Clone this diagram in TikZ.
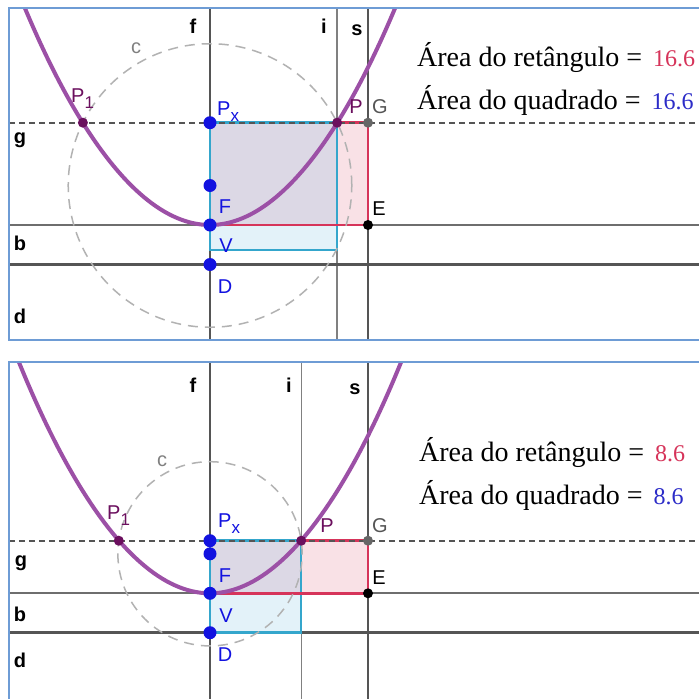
\documentclass[tikz,border=0pt]{standalone}
\usepackage{fontspec}
\setmainfont{Liberation Serif}
\setsansfont{Liberation Sans}
\usepackage{xcolor}
\definecolor{frame}{HTML}{6E9CD5}
\definecolor{axis}{HTML}{555555}
\definecolor{parab}{HTML}{9C50A6}
\definecolor{ptblue}{HTML}{1212E0}
\definecolor{ptpurp}{HTML}{6B0F5E}
\definecolor{sqline}{HTML}{34A6CC}
\definecolor{sqfill}{HTML}{E3F2F9}
\definecolor{rcline}{HTML}{D6345A}
\definecolor{rcfill}{HTML}{F9E1E6}
\definecolor{mixfill}{HTML}{DCD8E5}
\definecolor{numred}{HTML}{D6345A}
\definecolor{numblue}{HTML}{2C2CC8}
\usetikzlibrary{calc}

\begin{document}
\begin{tikzpicture}[x=1pt,y=-1pt,
  frm/.style={frame,line width=2pt},
  heavy/.style={axis,line width=2.8pt},
  light/.style={axis!75,line width=1.3pt},
  guide/.style={axis,line width=1.8pt,dash pattern=on 6pt off 4pt},
  circc/.style={gray!60,line width=1.5pt,dash pattern=on 10pt off 7pt},
  curve/.style={parab,line width=4pt},
  sqedge/.style={sqline,line width=2.5pt},
  rcedge/.style={rcline,line width=2.5pt},
  lnlbl/.style={anchor=base,inner sep=0pt,font=\sffamily\bfseries\fontsize{20}{20}\selectfont},
  ptlbl/.style={anchor=base,inner sep=0pt,text=ptblue,font=\sffamily\fontsize{20}{20}\selectfont},
  arealbl/.style={anchor=base west,inner sep=0pt,font=\fontsize{28}{28}\selectfont}]

\useasboundingbox[fill=white] (0,0) rectangle (699,699);

% ---------- top panel ----------
\begin{scope}
\clip (9,8) rectangle (699,340);
\coordinate (Px) at (210,122.7);
\coordinate (F) at (210,185.5);
\coordinate (V) at (210,225);
\coordinate (D) at (210,264.5);
\coordinate (P) at (337.1,122.7);
\coordinate (P1) at (82.9,122.7);
\coordinate (G) at (368,122.7);
\coordinate (E) at (368,225);
\coordinate (Q) at (337.1,249.8);

% square and rectangle areas
\fill[sqfill] (Px) rectangle (Q);
\fill[rcfill] (Px) rectangle (E);
\fill[mixfill] (Px) rectangle (P |- V);

% lines i, s, b, d, f
\draw[light] (P |- 0,8) -- (P |- 0,340);
\draw[axis,line width=1.7pt] (G |- 0,8) -- (G |- 0,340);
\draw[axis!85,line width=1.7pt] (9,225) -- (699,225);
\draw[heavy] (9,264.5) -- (699,264.5);
\draw[heavy] (210,8) -- (210,340);

\draw[sqedge] (Px) -- (P) -- (Q) -- (Q -| Px) -- cycle;
\draw[rcedge] (V) -- (E) -- (G) -- (P);
\draw[guide] (9,122.7) -- (699,122.7);

% circle c and parabola
\draw[circc] let \p1=($(P)-(F)$) in (F) circle ({veclen(\x1,\y1)});
\draw[curve] (21.5,0) parabola bend (V) (398.5,0);

% points
\foreach \pt in {Px,F,V,D} \fill[ptblue] (\pt) circle (6.5pt);
\foreach \pt in {P,P1} \fill[ptpurp] (\pt) circle (5pt);
\fill[axis!90] (G) circle (5pt);
\fill[black] (E) circle (5pt);

% labels
\node[lnlbl] (lf) at (193,33) {f};
\node[lnlbl] (li) at (324,33) {i};
\node[lnlbl] (ls) at (357,35) {s};
\node[lnlbl] (lg) at (20,143) {g};
\node[lnlbl] (lb) at (20,250) {b};
\node[lnlbl] (ld) at (20,323) {d};
\node[lnlbl,text=gray,font=\sffamily\fontsize{20}{20}\selectfont] (lc) at (136,53) {c};
\node[ptlbl,anchor=base west,text=ptpurp] (lP1) at (71,102) {P\raisebox{-6pt}{\fontsize{17}{17}\selectfont 1}};
\node[ptlbl,anchor=base west] (lPx) at (217,115) {P\raisebox{-6pt}{\fontsize{17}{17}\selectfont x}};
\node[ptlbl,text=ptpurp] (lP) at (356,113) {P};
\node[ptlbl,text=axis] (lG) at (380,113) {G};
\node[ptlbl] (lF) at (225,213) {F};
\node[ptlbl] (lV) at (226,252) {V};
\node[ptlbl] (lD) at (225,293) {D};
\node[ptlbl,text=black] (lE) at (379,215) {E};

\node[arealbl] (ret1) at (417,66) {Área do retângulo = \hspace{4pt}\textcolor{numred}{\fontsize{24}{24}\selectfont 16.6}};
\node[arealbl] (qua1) at (417,109) {Área do quadrado = \hspace{4pt}\textcolor{numblue}{\fontsize{24}{24}\selectfont 16.6}};
\end{scope}
\draw[frm] (9,8) rectangle (720,340);

% ---------- bottom panel ----------
\begin{scope}
\clip (9,362) rectangle (699,699);
\coordinate (Px) at (210,540.7);
\coordinate (F) at (210,553.8);
\coordinate (V) at (210,593.3);
\coordinate (D) at (210,632.7);
\coordinate (P) at (301.2,540.7);
\coordinate (P1) at (118.8,540.7);
\coordinate (G) at (368,540.7);
\coordinate (E) at (368,593.3);
\coordinate (Q) at (301.2,632.7);

% square and rectangle areas
\fill[sqfill] (Px) rectangle (Q);
\fill[rcfill] (Px) rectangle (E);
\fill[mixfill] (Px) rectangle (P |- V);

% lines i, s, b, d, f
\draw[light] (P |- 0,362) -- (P |- 0,699);
\draw[axis,line width=1.7pt] (G |- 0,362) -- (G |- 0,699);
\draw[axis!85,line width=1.7pt] (9,593.3) -- (699,593.3);
\draw[heavy] (9,632.7) -- (699,632.7);
\draw[heavy] (210,362) -- (210,699);

\draw[sqedge] (Px) -- (P) -- (Q) -- (Q -| Px) -- cycle;
\draw[rcedge] (V) -- (E) -- (G) -- (P);
\draw[guide] (9,540.7) -- (699,540.7);

% circle c and parabola
\draw[circc] let \p1=($(P)-(F)$) in (F) circle ({veclen(\x1,\y1)});
\draw[curve] (16,355) parabola bend (V) (404,355);

% points
\foreach \pt in {Px,F,V,D} \fill[ptblue] (\pt) circle (6.5pt);
\foreach \pt in {P,P1} \fill[ptpurp] (\pt) circle (5pt);
\fill[axis!90] (G) circle (5pt);
\fill[black] (E) circle (5pt);

% labels
\node[lnlbl] (mf) at (193,392) {f};
\node[lnlbl] (mi) at (289,392) {i};
\node[lnlbl] (ms) at (355,394) {s};
\node[lnlbl] (mg) at (21,566) {g};
\node[lnlbl] (mb) at (20,621) {b};
\node[lnlbl] (md) at (20,667) {d};
\node[lnlbl,text=gray,font=\sffamily\fontsize{20}{20}\selectfont] (mc) at (162,466) {c};
\node[ptlbl,anchor=base west,text=ptpurp] (mP1) at (107,519) {P\raisebox{-6pt}{\fontsize{17}{17}\selectfont 1}};
\node[ptlbl,anchor=base west] (mPx) at (218,527) {P\raisebox{-6pt}{\fontsize{17}{17}\selectfont x}};
\node[ptlbl,text=ptpurp] (mP) at (327,532) {P};
\node[ptlbl,text=axis] (mG) at (380,532) {G};
\node[ptlbl] (mF) at (225,582) {F};
\node[ptlbl] (mV) at (226,622) {V};
\node[ptlbl] (mD) at (225,661) {D};
\node[ptlbl,text=black] (mE) at (379,584) {E};

\node[arealbl] (ret2) at (419,461) {Área do retângulo = \hspace{4pt}\textcolor{numred}{\fontsize{24}{24}\selectfont 8.6}};
\node[arealbl] (qua2) at (419,504) {Área do quadrado = \hspace{4pt}\textcolor{numblue}{\fontsize{24}{24}\selectfont 8.6}};
\end{scope}
\draw[frm] (9,362) rectangle (720,720);

\end{tikzpicture}
\end{document}
